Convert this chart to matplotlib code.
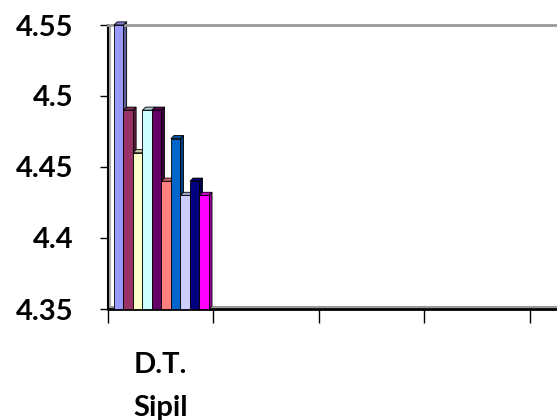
import matplotlib.pyplot as plt
from matplotlib.patches import Polygon
import numpy as np

CATEGORY = 'D.T.\nSipil'
N_CATEGORIES = 5
VALUES = [4.55, 4.49, 4.46, 4.49, 4.49, 4.44, 4.47, 4.43, 4.44, 4.43]
COLORS = ['#9999FF', '#993366', '#FFFFCC', '#CCFFFF', '#660066',
          '#FF8080', '#0066CC', '#CCCCFF', '#000080', '#FF00FF']
Y_TICKS = [4.35, 4.4, 4.45, 4.5, 4.55]
Y_LABELS = ['4.35', '4.4', '4.45', '4.5', '4.55']


def darker(hex_color, f):
    r, g, b = [int(hex_color[i:i + 2], 16) / 255 for i in (1, 3, 5)]
    return (r * f, g * f, b * f)


fig = plt.figure(figsize=(5.57, 4.2), dpi=100)
ax = fig.add_axes([108 / 557, 111 / 420, 527 / 557, 284 / 420])

ymin, ymax = 4.35, 4.55
group_w = 0.9
bar_w = group_w / len(VALUES)
dx = 0.03
dy = 0.0022
start = 6 / 105.4

# bars with a little 3d side and top
for i, (v, c) in enumerate(zip(VALUES, COLORS)):
    x0 = start + i * bar_w
    ax.bar(x0, v - ymin, bottom=ymin, width=bar_w, align='edge',
           color=c, edgecolor='black', linewidth=0.6, zorder=3 + i,
           clip_on=False)
    side = [(x0 + bar_w, ymin), (x0 + bar_w + dx, ymin + dy),
            (x0 + bar_w + dx, v + dy), (x0 + bar_w, v)]
    top = [(x0, v), (x0 + dx, v + dy), (x0 + bar_w + dx, v + dy), (x0 + bar_w, v)]
    ax.add_patch(Polygon(side, closed=True, facecolor=darker(c, 0.6),
                         edgecolor='black', linewidth=0.6, zorder=2 + i,
                         clip_on=False))
    ax.add_patch(Polygon(top, closed=True, facecolor=darker(c, 0.8),
                         edgecolor='black', linewidth=0.6, zorder=3 + i,
                         clip_on=False))

ax.set_xlim(0, N_CATEGORIES)
ax.set_ylim(ymin, ymax)

ax.set_yticks(Y_TICKS)
ax.set_yticklabels(Y_LABELS)
ax.set_xticks(np.arange(0, N_CATEGORIES + 1))
ax.set_xticklabels([])
ax.set_xticks([0.5], minor=True)
ax.set_xticklabels([CATEGORY], minor=True)
ax.tick_params(axis='x', which='minor', length=0, pad=31)
ax.tick_params(axis='x', which='major', length=10, width=1, direction='out')
ax.tick_params(axis='y', length=6, width=1, direction='out', pad=19)

for lab in ax.get_yticklabels() + ax.get_xticklabels(minor=True):
    lab.set_fontfamily('Lato')
    lab.set_fontweight('bold')
    lab.set_fontsize(21)
for lab in ax.get_xticklabels(minor=True):
    lab.set_linespacing(1.8)

# wall look
ax.spines['top'].set_color('#999999')
ax.spines['top'].set_linewidth(2)
ax.spines['right'].set_visible(False)
ax.spines['left'].set_linewidth(1.5)
ax.spines['bottom'].set_linewidth(2)
ax.axvline(0.015, color='#aaaaaa', linewidth=1.5, zorder=1)
ax.axhline(ymin + 0.0015, color='#999999', linewidth=1.5, zorder=1)

fig.savefig('out.png', dpi=100)
